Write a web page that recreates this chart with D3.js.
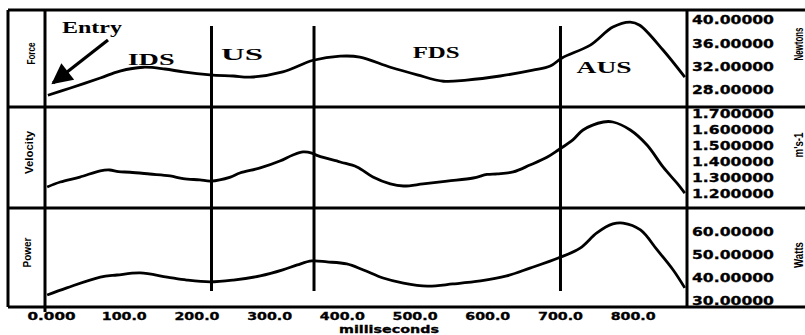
<!DOCTYPE html>
<html>
<head>
<meta charset="utf-8">
<script src="https://cdn.jsdelivr.net/npm/d3@7"></script>
<style>
  html, body { margin: 0; padding: 0; background: #fff; }
  svg { display: block; }
  .tick-label { font-family: 'DejaVu Sans', sans-serif; font-weight: bold; font-size: 12px; fill: #000; stroke: #000; stroke-width: 0.3px; }
  .side-label { font-family: 'Liberation Sans Narrow', 'Liberation Sans', sans-serif; font-weight: bold; font-size: 11px; fill: #000; }
  .phase-label { font-family: 'Liberation Serif', serif; font-weight: bold; font-size: 17px; fill: #000; }
</style>
</head>
<body>
<svg id="chart" width="805" height="335"></svg>
<script>
// time axis (milliseconds)
const xTicks = [0, 100, 200, 300, 400, 500, 600, 700, 800];
const xTickLabels = ['0.000', '100.0', '200.0', '300.0', '400.0', '500.0', '600.0', '700.0', '800.0'];

// phase boundaries (ms) and names
const phaseBounds = [220, 361, 700];
const phaseNames = ['IDS', 'US', 'FDS', 'AUS'];

// force (Newtons)
const forceMs = [-5, 25, 67, 94, 126, 156, 181, 218, 250, 273, 318, 360, 397, 424, 466, 503, 539, 571, 617, 662, 686, 702, 741, 772, 796, 809, 841, 871];
const forceVal = [27.1, 28.3, 30.05, 31.25, 31.9, 31.6, 31.1, 30.6, 30.4, 30.2, 31.1, 33.1, 33.8, 33.65, 31.9, 30.6, 29.5, 29.7, 30.4, 31.4, 32.1, 33.5, 35.7, 38.8, 39.65, 39.1, 34.85, 30.2];
const forceTicks = [28, 32, 36, 40];
const forceTickLabels = ['28.00000', '32.00000', '36.00000', '40.00000'];

// velocity (m/s)
const velocityMs = [-6, 12, 39, 67, 80, 92, 108, 135, 163, 181, 204, 219, 246, 259, 287, 314, 332, 346, 358, 367, 397, 420, 442, 466, 484, 511, 544, 580, 599, 613, 635, 658, 682, 697, 717, 731, 759, 772, 796, 819, 841, 860, 871];
const velocityVal = [1.244, 1.275, 1.306, 1.345, 1.35, 1.34, 1.336, 1.325, 1.313, 1.296, 1.288, 1.281, 1.306, 1.331, 1.363, 1.406, 1.444, 1.463, 1.456, 1.438, 1.4, 1.369, 1.306, 1.263, 1.25, 1.263, 1.281, 1.3, 1.322, 1.326, 1.338, 1.381, 1.431, 1.475, 1.538, 1.6, 1.65, 1.65, 1.6, 1.506, 1.369, 1.269, 1.206];
const velocityTicks = [1.2, 1.3, 1.4, 1.5, 1.6, 1.7];
const velocityTickLabels = ['1.200000', '1.300000', '1.400000', '1.500000', '1.600000', '1.700000'];

// power (Watts)
const powerMs = [-6, 21, 67, 90, 122, 159, 186, 218, 250, 287, 318, 338, 358, 379, 406, 429, 456, 484, 517, 552, 590, 626, 658, 697, 727, 750, 772, 786, 810, 833, 855, 871];
const powerVal = [32.6, 35.7, 40.4, 41.3, 42.2, 40.4, 39.1, 38.3, 39.1, 40.9, 43.5, 45.7, 47.4, 47.0, 46.1, 43.5, 40.0, 37.8, 36.5, 37.4, 38.7, 40.9, 44.3, 48.7, 53.0, 59.6, 63.5, 63.9, 60.9, 52.2, 43.5, 35.7];
const powerTicks = [30, 40, 50, 60];
const powerTickLabels = ['30.00000', '40.00000', '50.00000', '60.00000'];

const svg = d3.select('#chart');
const frame = { left: 8, plotLeft: 45, plotRight: 687, right: 805 };

const x = d3.scaleLinear().domain([-9, 874]).range([frame.plotLeft, frame.plotRight]);

const panels = [
  { top: 10, bottom: 107, ms: forceMs, val: forceVal, ticks: forceTicks, labels: forceTickLabels,
    y: d3.scaleLinear().domain([28, 40]).range([90, 20]),
    name: 'Force', nameLen: 22, nameX: 31, unit: 'Newtons', unitLen: 33, unitY: 44 },
  { top: 107, bottom: 208, ms: velocityMs, val: velocityVal, ticks: velocityTicks, labels: velocityTickLabels,
    y: d3.scaleLinear().domain([1.2, 1.7]).range([194, 114]),
    name: 'Velocity', nameLen: 43, nameX: 29, unit: "m's-1", unitLen: 25, unitY: 145 },
  { top: 208, bottom: 307, ms: powerMs, val: powerVal, ticks: powerTicks, labels: powerTickLabels,
    y: d3.scaleLinear().domain([30, 60]).range([301, 232]),
    name: 'Power', nameLen: 30, nameX: 27, unit: 'Watts', unitLen: 26, unitY: 255 }
];

const defs = svg.append('defs');

panels.forEach((p, i) => {
  defs.append('clipPath')
    .attr('id', 'clip' + i)
    .append('rect')
    .attr('x', frame.plotLeft + 1)
    .attr('y', p.top + 1)
    .attr('width', frame.plotRight - frame.plotLeft - 2)
    .attr('height', p.bottom - p.top - 2);

  const line = d3.line()
    .x((d, j) => x(p.ms[j]))
    .y(d => p.y(d))
    .curve(d3.curveCatmullRom.alpha(0.5));

  svg.append('path')
    .datum(p.val)
    .attr('clip-path', 'url(#clip' + i + ')')
    .attr('fill', 'none')
    .attr('stroke', '#000')
    .attr('stroke-width', 2.8)
    .attr('stroke-linejoin', 'round')
    .attr('d', line);

  // right axis labels
  svg.append('g')
    .selectAll('text')
    .data(p.ticks)
    .join('text')
    .attr('class', 'tick-label')
    .attr('x', 692)
    .attr('y', d => p.y(d))
    .attr('dy', '0.36em')
    .attr('textLength', 82)
    .attr('lengthAdjust', 'spacingAndGlyphs')
    .text((d, j) => p.labels[j]);

  // left panel name
  svg.append('text')
    .attr('class', 'side-label')
    .attr('transform', 'translate(' + p.nameX + ',' + ((p.top + p.bottom) / 2 - 5) + ') rotate(-90)')
    .attr('text-anchor', 'middle')
    .attr('dy', '0.36em')
    .attr('textLength', p.nameLen)
    .attr('lengthAdjust', 'spacingAndGlyphs')
    .text(p.name);

  // right unit
  svg.append('text')
    .attr('class', 'side-label')
    .attr('transform', 'translate(799,' + p.unitY + ') rotate(-90)')
    .attr('text-anchor', 'middle')
    .attr('dy', '0.36em')
    .attr('textLength', p.unitLen)
    .attr('lengthAdjust', 'spacingAndGlyphs')
    .style('font-size', '12px')
    .text(p.unit);
});

// frame lines
const hLines = [10, 107, 208, 307];
svg.append('g')
  .selectAll('line')
  .data(hLines)
  .join('line')
  .attr('x1', frame.left)
  .attr('x2', frame.right)
  .attr('y1', d => d)
  .attr('y2', d => d)
  .attr('stroke', '#000')
  .attr('stroke-width', 3);

svg.append('g')
  .selectAll('line')
  .data([frame.left, frame.plotLeft, frame.plotRight])
  .join('line')
  .attr('x1', d => d)
  .attr('x2', d => d)
  .attr('y1', 10)
  .attr('y2', (d, i) => i === 1 ? 312 : 307)
  .attr('stroke', '#000')
  .attr('stroke-width', 3);

// phase boundary lines
svg.append('g')
  .selectAll('line')
  .data(phaseBounds)
  .join('line')
  .attr('x1', d => x(d))
  .attr('x2', d => x(d))
  .attr('y1', 26)
  .attr('y2', 291)
  .attr('stroke', '#000')
  .attr('stroke-width', 3);

// phase names
const phaseMs = [137, 262, 529, 760];
const phaseY = [65, 60, 58, 73];
const phaseW = [47, 42, 47, 55];
svg.append('g')
  .selectAll('text')
  .data(phaseNames)
  .join('text')
  .attr('class', 'phase-label')
  .attr('x', (d, i) => x(phaseMs[i]))
  .attr('y', (d, i) => phaseY[i])
  .attr('text-anchor', 'middle')
  .attr('textLength', (d, i) => phaseW[i])
  .attr('lengthAdjust', 'spacingAndGlyphs')
  .text(d => d);

// entry arrow
svg.append('text')
  .attr('class', 'phase-label')
  .attr('x', 62)
  .attr('y', 33)
  .attr('textLength', 60)
  .attr('lengthAdjust', 'spacingAndGlyphs')
  .style('font-size', '16px')
  .text('Entry');

defs.append('marker')
  .attr('id', 'arrow')
  .attr('viewBox', '0 0 10 10')
  .attr('refX', 9)
  .attr('refY', 5)
  .attr('markerWidth', 7.5)
  .attr('markerHeight', 6.5)
  .attr('markerUnits', 'strokeWidth')
  .attr('orient', 'auto')
  .append('path')
  .attr('d', 'M0,0L10,5L0,10z')
  .attr('fill', '#000');

svg.append('line')
  .attr('x1', 108)
  .attr('y1', 40)
  .attr('x2', 53)
  .attr('y2', 83)
  .attr('stroke', '#000')
  .attr('stroke-width', 3.2)
  .attr('marker-end', 'url(#arrow)');

// x axis labels
svg.append('g')
  .selectAll('text')
  .data(xTicks)
  .join('text')
  .attr('class', 'tick-label')
  .attr('x', d => x(d))
  .attr('y', 316)
  .attr('dy', '0.36em')
  .attr('text-anchor', 'middle')
  .attr('textLength', (d, i) => i === 0 ? 48 : 45)
  .attr('lengthAdjust', 'spacingAndGlyphs')
  .style('font-size', '10px')
  .text((d, i) => xTickLabels[i]);

svg.append('text')
  .attr('class', 'tick-label')
  .attr('x', 389)
  .attr('y', 329)
  .attr('dy', '0.36em')
  .attr('text-anchor', 'middle')
  .attr('textLength', 100)
  .attr('lengthAdjust', 'spacingAndGlyphs')
  .style('font-size', '10px')
  .text('milliseconds');
</script>
</body>
</html>
